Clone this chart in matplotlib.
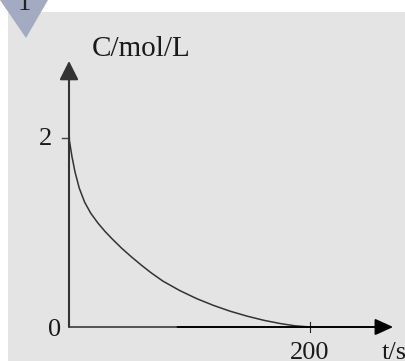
import matplotlib

matplotlib.use("Agg")
import matplotlib.pyplot as plt
from matplotlib.patches import Polygon, Rectangle

# concentration decay
t_s = [0, 2.5, 5, 8.5, 13, 18, 24, 30, 36, 44, 52, 60, 68, 78, 92, 106,
       120, 134, 148, 162, 176, 188, 200]
conc = [2.0, 1.80, 1.64, 1.47, 1.32, 1.205, 1.10, 1.01, 0.93, 0.83, 0.74, 0.655,
        0.575, 0.485, 0.385, 0.30, 0.228, 0.166, 0.114, 0.07, 0.035, 0.012, 0.0]

x_ticks = [200]
x_tick_labels = ["200"]
y_ticks = [2]
y_tick_labels = ["2"]
x_label = "t/s"
y_label = "C/mol/L"
badge_label = "1"

W, H = 405, 361
plt.rcParams["font.family"] = ["Liberation Serif", "DejaVu Serif"]

fig = plt.figure(figsize=(W / 100, H / 100), dpi=100, facecolor="white")

# grey panel and the numbered badge in the corner
fig.patches.append(Rectangle((8 / W, 1 - 361 / H), 1, (361 - 12) / H,
                             transform=fig.transFigure, facecolor="#e4e4e4",
                             edgecolor="none", zorder=-2))
fig.patches.append(Polygon([(0, 1), (48 / W, 1), (26 / W, 1 - 38 / H)], closed=True,
                           transform=fig.transFigure, facecolor="#a3abc2",
                           edgecolor="none", zorder=-1))
fig.text(24 / W, 1 - 10 / H, badge_label, ha="center", va="baseline",
         fontsize=19, color="#222222")

ax = fig.add_axes([69 / W, 34 / H, 241 / W, 189 / H])
ax.set_xlim(0, 200)
ax.set_ylim(0, 2)
ax.axis("off")

x_end = 269
y_end = 2.815

# axes with arrowheads
ax.plot([0, 90], [0, 0], color="#555555", lw=1.4, clip_on=False, solid_capstyle="butt")
ax.annotate("", xy=(x_end, 0), xytext=(90, 0), annotation_clip=False,
            arrowprops=dict(arrowstyle="-|>,head_length=1.1,head_width=0.5",
                            mutation_scale=10, color="black", lw=1.4,
                            shrinkA=0, shrinkB=0))
ax.annotate("", xy=(0, y_end), xytext=(0, 0), annotation_clip=False,
            arrowprops=dict(arrowstyle="-|>,head_length=1.15,head_width=0.58",
                            mutation_scale=10, color="#333333", lw=1.5,
                            shrinkA=0, shrinkB=0))

# decay curve
ax.plot(t_s, conc, color="#333333", lw=1.1, clip_on=False, solid_joinstyle="round")

# ticks and their labels
for t, lab in zip(x_ticks, x_tick_labels):
    ax.plot([t, t], [0.05, -0.05], color="#222222", lw=0.8, clip_on=False)
    ax.annotate(lab, xy=(t, 0), xytext=(0, -15), textcoords="offset pixels",
                ha="center", va="top", fontsize=19, color="#1a1a1a",
                annotation_clip=False)
for c, lab in zip(y_ticks, y_tick_labels):
    ax.plot([-6, 0], [c, c], color="#444444", lw=1.0, clip_on=False)
    ax.annotate(lab, xy=(0, c), xytext=(-23, -1), textcoords="offset pixels",
                ha="center", va="center", fontsize=19, color="#1a1a1a",
                annotation_clip=False)
ax.annotate("0", xy=(0, 0), xytext=(-14, -3), textcoords="offset pixels",
            ha="center", va="center", fontsize=19, color="#1a1a1a",
            annotation_clip=False)

# axis titles
ax.annotate(x_label, xy=(200, 0), xytext=(72, -15), textcoords="offset pixels",
            ha="left", va="top", fontsize=19, color="#1a1a1a", annotation_clip=False)
ax.annotate(y_label, xy=(0, y_end), xytext=(23, 5), textcoords="offset pixels",
            ha="left", va="baseline", fontsize=21, color="#1a1a1a",
            annotation_clip=False)

fig.savefig("out.png", dpi=100, facecolor="white")
